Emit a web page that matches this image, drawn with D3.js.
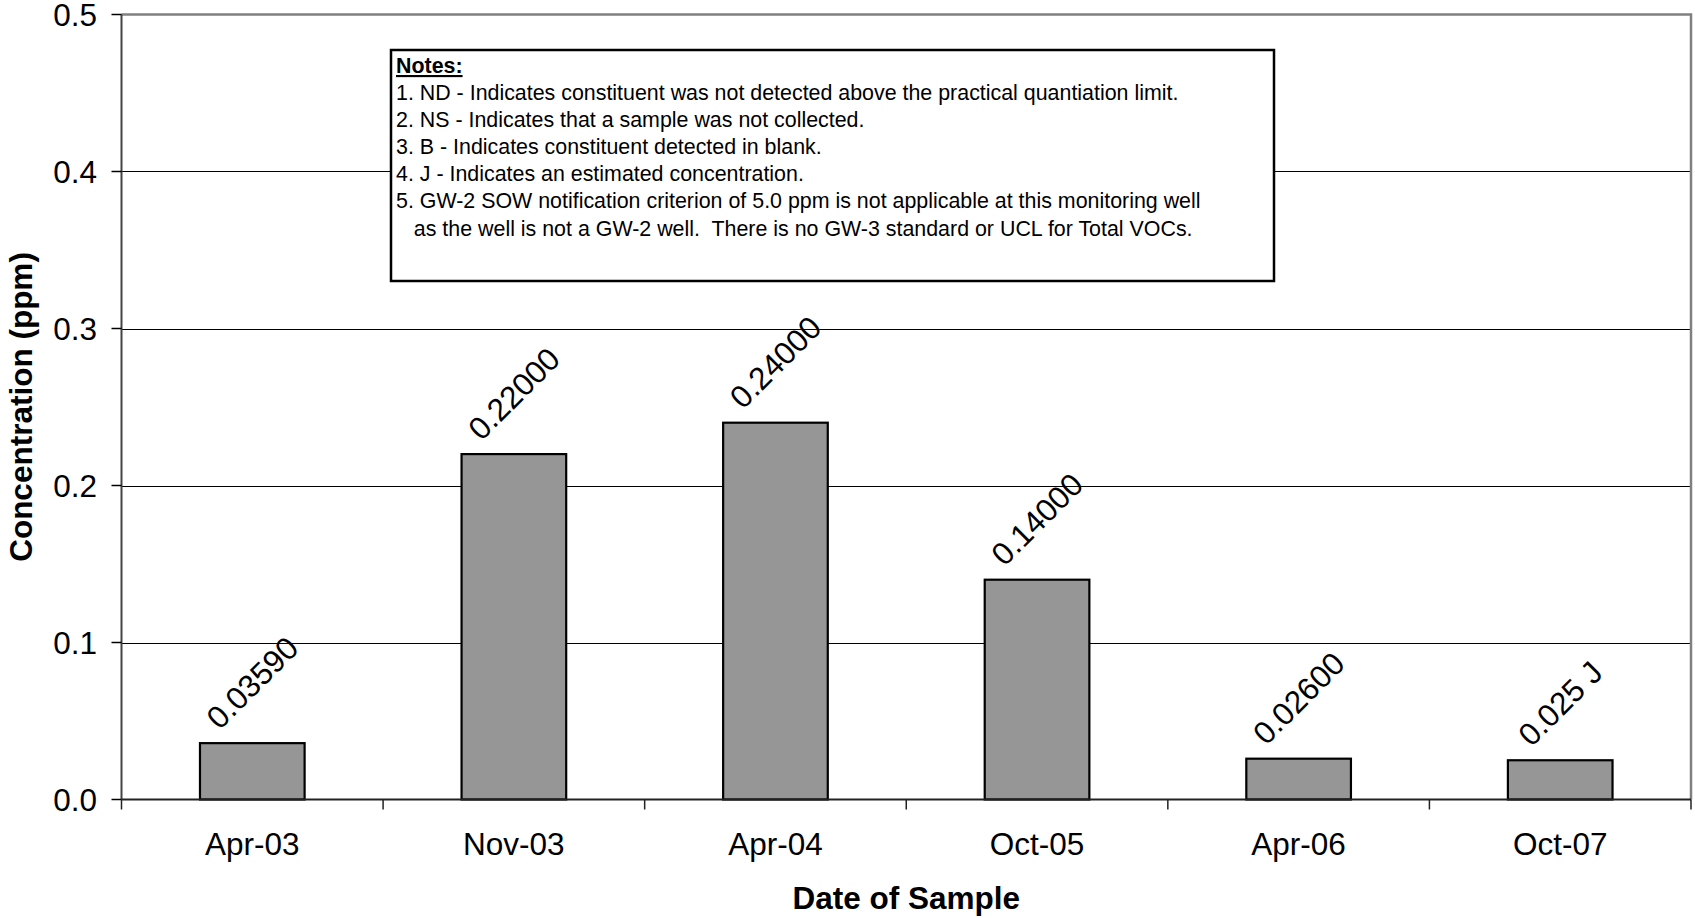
<!DOCTYPE html>
<html>
<head>
<meta charset="utf-8">
<script src="https://cdn.jsdelivr.net/npm/d3@7"></script>
<style>
  html, body { margin: 0; padding: 0; background: #fff; }
  svg { display: block; font-family: "Liberation Sans", Arial, Helvetica, sans-serif; }
</style>
</head>
<body>
<svg id="chart" width="1695" height="918"></svg>
<script>
// Sampling dates and Total VOC concentrations (ppm)
const categories = ["Apr-03", "Nov-03", "Apr-04", "Oct-05", "Apr-06", "Oct-07"];
const values = [0.0359, 0.22, 0.24, 0.14, 0.026, 0.025];
const valueLabels = ["0.03590", "0.22000", "0.24000", "0.14000", "0.02600", "0.025 J"];
const yTicks = [0, 0.1, 0.2, 0.3, 0.4, 0.5];
const notesTitle = "Notes:";
const notesLines = [
  "1. ND - Indicates constituent was not detected above the practical quantiation limit.",
  "2. NS - Indicates that a sample was not collected.",
  "3. B - Indicates constituent detected in blank.",
  "4. J - Indicates an estimated concentration.",
  "5. GW-2 SOW notification criterion of 5.0 ppm is not applicable at this monitoring well",
  "   as the well is not a GW-2 well.  There is no GW-3 standard or UCL for Total VOCs."
];

const svg = d3.select("#chart");
const plot = { left: 121.5, right: 1691, top: 14.5, bottom: 799.5 };
const FS = 31.5;

const x = d3.scaleBand()
  .domain(categories)
  .range([plot.left, plot.right])
  .paddingInner(0.6)
  .paddingOuter(0.3);
const step = x.step();

const y = d3.scaleLinear().domain([0, 0.5]).range([plot.bottom, plot.top]);

// horizontal gridlines
svg.append("g")
  .selectAll("line")
  .data(yTicks.filter(t => t > 0 && t < 0.5))
  .join("line")
  .attr("x1", plot.left).attr("x2", plot.right)
  .attr("y1", d => Math.round(y(d)) + 0.5).attr("y2", d => Math.round(y(d)) + 0.5)
  .attr("stroke", "#000").attr("stroke-width", 1);

// plot area border (top and right)
svg.append("path")
  .attr("d", `M${plot.left},${y(0.5)}H${plot.right}V${plot.bottom}`)
  .attr("fill", "none").attr("stroke", "#808080").attr("stroke-width", 2.5);

// bars
svg.append("g")
  .selectAll("rect")
  .data(values)
  .join("rect")
  .attr("x", (d, i) => x(categories[i]))
  .attr("y", d => y(d))
  .attr("width", x.bandwidth())
  .attr("height", d => y(0) - y(d))
  .attr("fill", "#969696")
  .attr("stroke", "#000")
  .attr("stroke-width", 2.2);

// y axis
const yAxis = svg.append("g");
yAxis.append("line")
  .attr("x1", plot.left).attr("x2", plot.left)
  .attr("y1", plot.top).attr("y2", plot.bottom)
  .attr("stroke", "#444").attr("stroke-width", 2);
yAxis.selectAll("line.tick")
  .data(yTicks)
  .join("line").attr("class", "tick")
  .attr("x1", plot.left - 10).attr("x2", plot.left)
  .attr("y1", d => y(d)).attr("y2", d => y(d))
  .attr("stroke", "#000").attr("stroke-width", 1.5);
yAxis.selectAll("text")
  .data(yTicks)
  .join("text")
  .attr("x", 97)
  .attr("y", d => y(d) + 11)
  .attr("text-anchor", "end")
  .attr("font-size", FS)
  .text(d3.format(".1f"));

// x axis
const xAxis = svg.append("g");
xAxis.append("line")
  .attr("x1", plot.left).attr("x2", plot.right)
  .attr("y1", plot.bottom).attr("y2", plot.bottom)
  .attr("stroke", "#222").attr("stroke-width", 2);
xAxis.selectAll("line.tick")
  .data(d3.range(categories.length + 1))
  .join("line").attr("class", "tick")
  .attr("x1", i => plot.left + i * step).attr("x2", i => plot.left + i * step)
  .attr("y1", plot.bottom).attr("y2", plot.bottom + 10)
  .attr("stroke", "#222").attr("stroke-width", 1.5);
xAxis.selectAll("text")
  .data(categories)
  .join("text")
  .attr("x", d => x(d) + x.bandwidth() / 2)
  .attr("y", 855)
  .attr("text-anchor", "middle")
  .attr("font-size", FS)
  .text(d => d);

// rotated value labels above the bars
svg.append("g")
  .selectAll("text")
  .data(values)
  .join("text")
  .attr("font-size", FS)
  .attr("text-anchor", "middle")
  .attr("dy", "0.35em")
  .text((d, i) => valueLabels[i])
  .each(function (d, i) {
    const len = this.getComputedTextLength();
    const h = FS * 1.1;
    const half = (len + h) / Math.SQRT2 / 2;
    const cx = x(categories[i]) + x.bandwidth() / 2;
    const cy = y(d) - 8 - half;
    d3.select(this).attr("transform", `translate(${cx},${cy}) rotate(-45)`);
  });

// axis titles
svg.append("text")
  .attr("transform", `translate(32,${(plot.top + plot.bottom) / 2}) rotate(-90)`)
  .attr("text-anchor", "middle")
  .attr("font-size", FS)
  .attr("font-weight", "bold")
  .text("Concentration (ppm)");

svg.append("text")
  .attr("x", (plot.left + plot.right) / 2)
  .attr("y", 909)
  .attr("text-anchor", "middle")
  .attr("font-size", FS)
  .attr("font-weight", "bold")
  .text("Date of Sample");

// notes box
const notes = svg.append("g");
notes.append("rect")
  .attr("x", 391).attr("y", 50)
  .attr("width", 883).attr("height", 231)
  .attr("fill", "#fff").attr("stroke", "#000").attr("stroke-width", 2.5);
const NFS = 21.4;
notes.append("text")
  .attr("x", 396).attr("y", 73)
  .attr("font-size", NFS)
  .attr("font-weight", "bold")
  .attr("text-decoration", "underline")
  .text(notesTitle);
notes.selectAll("text.line")
  .data(notesLines)
  .join("text").attr("class", "line")
  .attr("x", 396)
  .attr("y", (d, i) => 100 + i * 27.1)
  .attr("font-size", NFS)
  .attr("xml:space", "preserve")
  .style("white-space", "pre")
  .text(d => d);
</script>
</body>
</html>
